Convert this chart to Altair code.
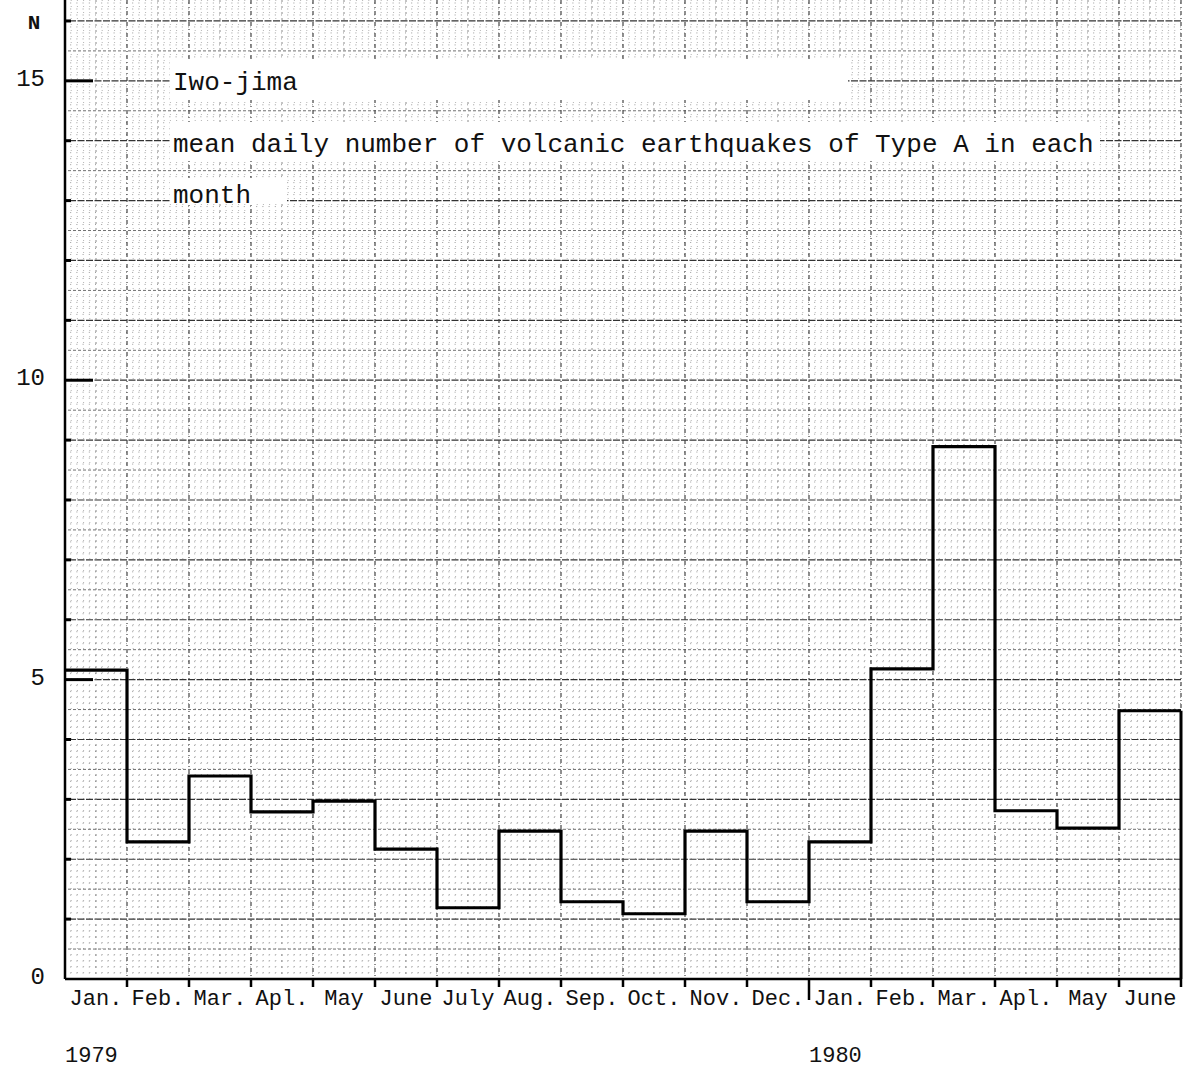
import altair as alt
import numpy as np
import pandas as pd

# Iwo-jima: mean daily number of Type A volcanic earthquakes, Jan 1979 - June 1980
month_labels = ["Jan.", "Feb.", "Mar.", "Apl.", "May", "June", "July", "Aug.",
                "Sep.", "Oct.", "Nov.", "Dec.", "Jan.", "Feb.", "Mar.", "Apl.",
                "May", "June"]
mean_daily = [5.16, 2.29, 3.39, 2.79, 2.97, 2.17, 1.19, 2.47, 1.29, 1.09,
              2.47, 1.29, 2.29, 5.18, 8.89, 2.81, 2.52, 4.48]
years = ["1979", "1980"]
year_start = [0, 12]
y_tick_labels = [0, 5, 10, 15]
y_major_ticks = [5, 10, 15]
title_lines = ["Iwo-jima",
               "mean daily number of volcanic earthquakes of Type A in each",
               "month"]

W, H = 1116, 979
Y_TOP = 16.35
N_MONTHS = len(mean_daily)
FONT = "Liberation Mono"

xs = alt.Scale(domain=[0, N_MONTHS], nice=False, zero=False)
ys = alt.Scale(domain=[0, Y_TOP], nice=False, zero=False)


def X(field):
    return alt.X(field, type="quantitative", scale=xs, axis=None)


def Y(field):
    return alt.Y(field, type="quantitative", scale=ys, axis=None)


one = pd.DataFrame({"k": [0]})

# ---- graph-paper background -------------------------------------------
tenths = np.round(np.arange(0.1, Y_TOP, 0.1), 2)
minor_h = pd.DataFrame({"y": [v for v in tenths if abs(v * 2 - round(v * 2)) > 1e-6]})
month_tenths = np.round(np.arange(0.1, N_MONTHS, 0.1), 2)
minor_v = pd.DataFrame({"x": [v for v in month_tenths if abs(v * 2 - round(v * 2)) > 1e-6]})
half_h = pd.DataFrame({"y": np.arange(0.5, Y_TOP, 1.0)})
unit_h = pd.DataFrame({"y": np.arange(1, int(Y_TOP) + 1)})
month_v = pd.DataFrame({"x": np.arange(1, N_MONTHS + 1)})
half_v = pd.DataFrame({"x": np.arange(0.5, N_MONTHS, 1.0)})

dots_h = alt.Chart(minor_h).mark_rule(
    color="#9a9a9a", strokeWidth=1, strokeDash=[1, 5.2]
).encode(y=Y("y"))
dots_v = alt.Chart(minor_v).mark_rule(
    color="#b4b4b4", strokeWidth=1, strokeDash=[1, 5]
).encode(x=X("x"))
half_lines = alt.Chart(half_h).mark_rule(
    color="#707070", strokeWidth=1, strokeDash=[3, 2]
).encode(y=Y("y"))
unit_lines = alt.Chart(unit_h).mark_rule(
    color="#333333", strokeWidth=1.2, strokeDash=[7, 1.5]
).encode(y=Y("y"))
half_month_lines = alt.Chart(half_v).mark_rule(
    color="#8a8a8a", strokeWidth=1, strokeDash=[2, 4]
).encode(x=X("x"))
month_lines = alt.Chart(month_v).mark_rule(
    color="#444444", strokeWidth=1.2, strokeDash=[4, 3, 1, 3]
).encode(x=X("x"))


# blank strips of paper under the typed caption
def blank(x0, x1, y0, y1):
    return alt.Chart(one).mark_rect(color="white").encode(
        x=alt.value(x0), x2=alt.value(x1), y=alt.value(y0), y2=alt.value(y1))


blanks = [blank(105, 783, 60, 100), blank(105, 1035, 122, 160),
          blank(105, 222, 178, 203)]


def caption(text, x, y):
    return alt.Chart(one).mark_text(
        text=text, font=FONT, fontSize=26, align="left", baseline="alphabetic",
        color="#111111"
    ).encode(x=alt.value(x), y=alt.value(y))


captions = [caption(title_lines[0], 108, 90),
            caption(title_lines[1], 108, 152),
            caption(title_lines[2], 108, 203)]

# ---- the monthly step histogram ----------------------------------------
step_df = pd.DataFrame({"m": list(range(N_MONTHS)) + [N_MONTHS],
                        "v": mean_daily + [mean_daily[-1]]})
step = alt.Chart(step_df).mark_line(
    interpolate="step-after", color="black", strokeWidth=3.2, strokeJoin="miter"
).encode(x=X("m"), y=Y("v"))

close_df = pd.DataFrame({"m": [N_MONTHS], "v0": [0.0], "v": [mean_daily[-1]]})
close = alt.Chart(close_df).mark_rule(color="black", strokeWidth=3).encode(
    x=X("m"), y=Y("v0"), y2="v")

# ---- axes ---------------------------------------------------------------
left_axis = alt.Chart(one).mark_rule(color="black", strokeWidth=2.5).encode(
    x=alt.value(0), y=alt.value(0), y2=alt.value(H))
bottom_axis = alt.Chart(one).mark_rule(color="black", strokeWidth=2.5).encode(
    x=alt.value(0), x2=alt.value(W + 1), y=alt.value(H))

minor_ticks_df = pd.DataFrame(
    {"y": [v for v in range(1, int(Y_TOP) + 1) if v not in y_major_ticks]})
minor_ticks = alt.Chart(minor_ticks_df).mark_rule(
    color="black", strokeWidth=3).encode(
    y=Y("y"), x=alt.value(0), x2=alt.value(6))
major_ticks = alt.Chart(pd.DataFrame({"y": y_major_ticks})).mark_rule(
    color="black", strokeWidth=3).encode(
    y=Y("y"), x=alt.value(0), x2=alt.value(28))

bound_df = pd.DataFrame({"x": [b for b in range(1, N_MONTHS + 1) if b != 12]})
x_ticks = alt.Chart(bound_df).mark_rule(color="black", strokeWidth=2.5).encode(
    x=X("x"), y=alt.value(H), y2=alt.value(H + 8))
year_tick = alt.Chart(pd.DataFrame({"x": [year_start[1]]})).mark_rule(
    color="black", strokeWidth=2.5).encode(
    x=X("x"), y=alt.value(H), y2=alt.value(H + 21))

y_labels = alt.Chart(pd.DataFrame({"y": y_tick_labels})).mark_text(
    font=FONT, fontSize=24, align="right", baseline="middle", dy=-2,
    color="#111111"
).encode(y=Y("y"), x=alt.value(-20), text="y:Q")

n_label = alt.Chart(one).mark_text(
    text="N", font=FONT, fontSize=21, fontWeight="bold", align="center",
    baseline="middle", color="#111111"
).encode(x=alt.value(-31), y=alt.value(23))

month_df = pd.DataFrame({"c": np.arange(N_MONTHS) + 0.5, "label": month_labels})
month_text = alt.Chart(month_df).mark_text(
    font=FONT, fontSize=22, align="center", baseline="middle", color="#111111"
).encode(x=X("c"), y=alt.value(998), text="label:N")

year_df = pd.DataFrame({"x": year_start, "label": years})
year_text = alt.Chart(year_df).mark_text(
    font=FONT, fontSize=22, align="left", baseline="middle", color="#111111"
).encode(x=X("x"), y=alt.value(1055), text="label:N")

chart = alt.layer(
    dots_h, dots_v, half_lines, unit_lines, half_month_lines, month_lines,
    *blanks, *captions,
    step, close, left_axis, bottom_axis, minor_ticks, major_ticks,
    x_ticks, year_tick, y_labels, n_label, month_text, year_text
).properties(
    width=W, height=H,
    autosize=alt.AutoSizeParams(type="none"),
    padding={"left": 65, "top": 0, "right": 4, "bottom": 89},
    background="white"
).configure_view(stroke=None)

chart.save("out.html", embed_options={"renderer": "svg", "actions": False})
